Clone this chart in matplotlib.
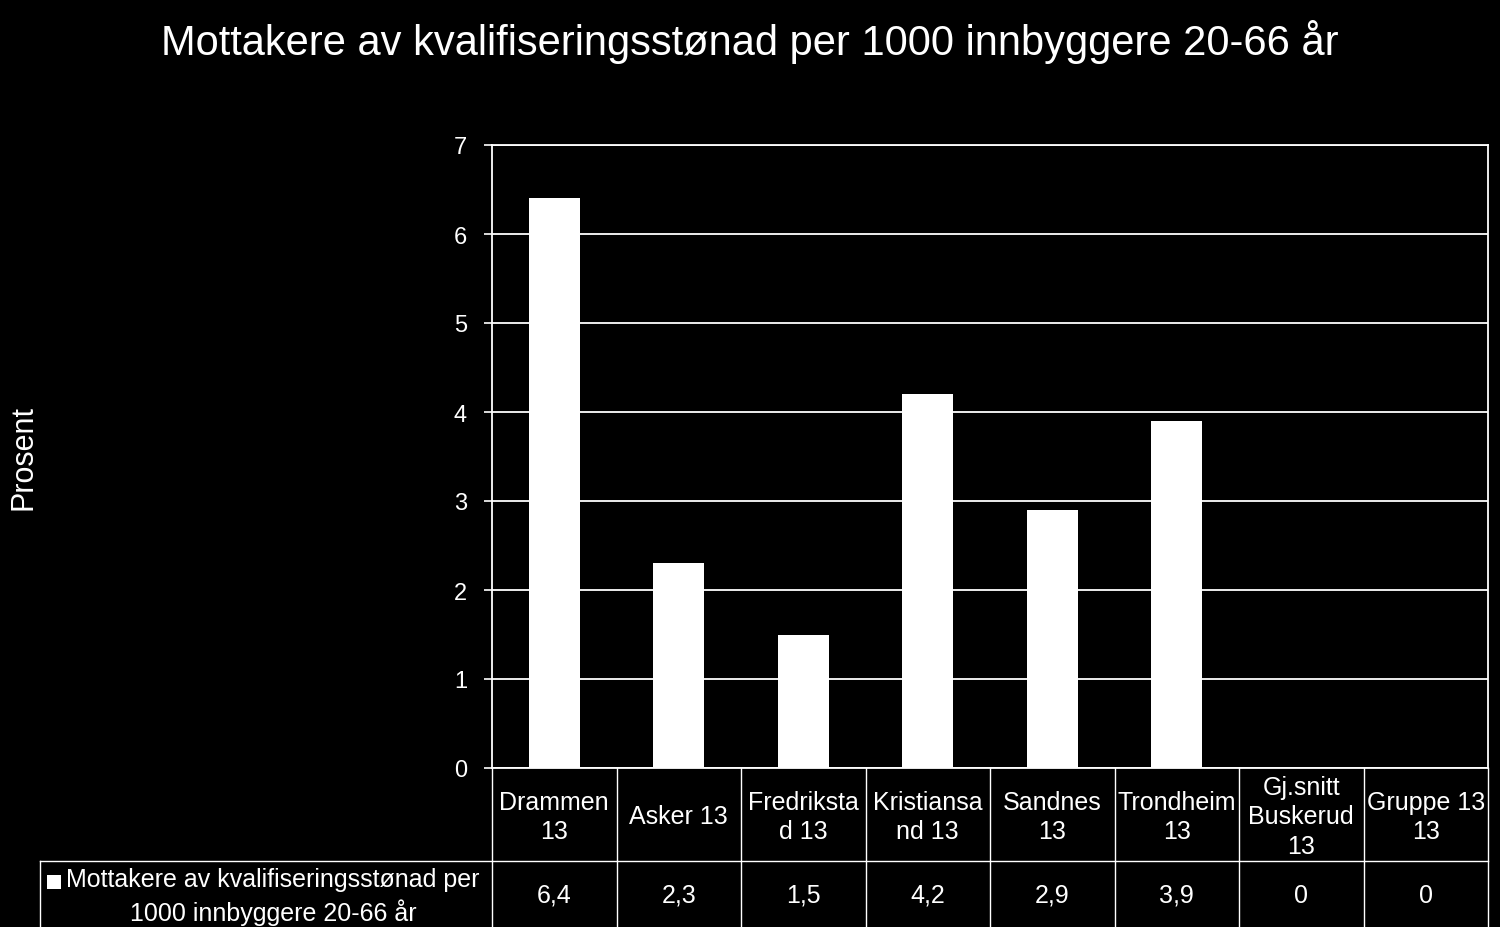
import matplotlib
matplotlib.use("Agg")
import matplotlib.pyplot as plt
from matplotlib.patches import Rectangle
from matplotlib.transforms import blended_transform_factory

plt.rcParams['font.family'] = ['Liberation Sans', 'DejaVu Sans']

title = "Mottakere av kvalifiseringsstønad per 1000 innbyggere 20-66 år"
categories = ["Drammen\n13", "Asker 13", "Fredriksta\nd 13", "Kristiansa\nnd 13",
              "Sandnes\n13", "Trondheim\n13", "Gj.snitt\nBuskerud\n13", "Gruppe 13\n13"]
values = [6.4, 2.3, 1.5, 4.2, 2.9, 3.9, 0, 0]
series_name = "Mottakere av kvalifiseringsstønad per\n1000 innbyggere 20-66 år"
y_label = "Prosent"
y_ticks = [0, 1, 2, 3, 4, 5, 6, 7]

W, H = 1500, 928
fig = plt.figure(figsize=(W / 100, H / 100), dpi=100, facecolor='black')

def fy(py):  # pixel from top -> figure fraction
    return 1 - py / H

def fx(px):
    return px / W

left, right, top, bottom = 492, 1488, 146, 769
ax = fig.add_axes([fx(left), fy(bottom), fx(right - left), (bottom - top) / H])
ax.set_facecolor('black')

x = list(range(len(categories)))
ax.bar(x, values, width=0.41, color='white', zorder=3)
ax.set_xlim(-0.5, len(categories) - 0.5)
ax.set_ylim(0, 7)
ax.set_yticks(y_ticks)
ax.set_yticklabels([str(t) for t in y_ticks])
ax.tick_params(axis='y', colors='white', labelsize=17, length=6, width=1.2, direction='out', pad=12)
ax.tick_params(axis='x', length=0, labelbottom=False)
ax.grid(axis='y', color='white', linewidth=1.3, zorder=1)
for s in ax.spines.values():
    s.set_color('white')
    s.set_linewidth(1.3)

fig.text(fx(750), fy(42), title, color='white', fontsize=30, ha='center', va='center')
fig.text(fx(24), fy(458), y_label, color='white', fontsize=22, rotation=90, ha='center', va='center')

# Data table below the axis
trans = blended_transform_factory(ax.transData, fig.transFigure)
row_mid = 862
tab_bottom = 928
lw = 1.0
n = len(categories)
for i in range(n + 1):
    xb = i - 0.5
    fig.lines.append(plt.Line2D([xb, xb], [fy(bottom), fy(tab_bottom)], transform=trans,
                                color='white', linewidth=lw))
# horizontal separator spanning legend cell
fig.lines.append(plt.Line2D([fx(40), fx(right)], [fy(row_mid), fy(row_mid)],
                            transform=fig.transFigure, color='white', linewidth=lw))
fig.lines.append(plt.Line2D([fx(40), fx(40)], [fy(row_mid), fy(tab_bottom)],
                            transform=fig.transFigure, color='white', linewidth=lw))

for i, (c, v) in enumerate(zip(categories, values)):
    fig.text(i, fy((bottom + row_mid) / 2 + 2), c, transform=trans, color='white', fontsize=18,
             ha='center', va='center', linespacing=1.3)
    fig.text(i, fy(896), f"{v:g}".replace('.', ','), transform=trans, color='white',
             fontsize=18, ha='center', va='center')

fig.patches.append(Rectangle((fx(47), fy(890)), fx(14), 14 / H, transform=fig.transFigure,
                             facecolor='white', edgecolor='none'))
fig.text(fx(273), fy(897), series_name, color='white', fontsize=18, ha='center', va='center',
         linespacing=1.3)

fig.savefig('out.png', dpi=100, facecolor='black')
